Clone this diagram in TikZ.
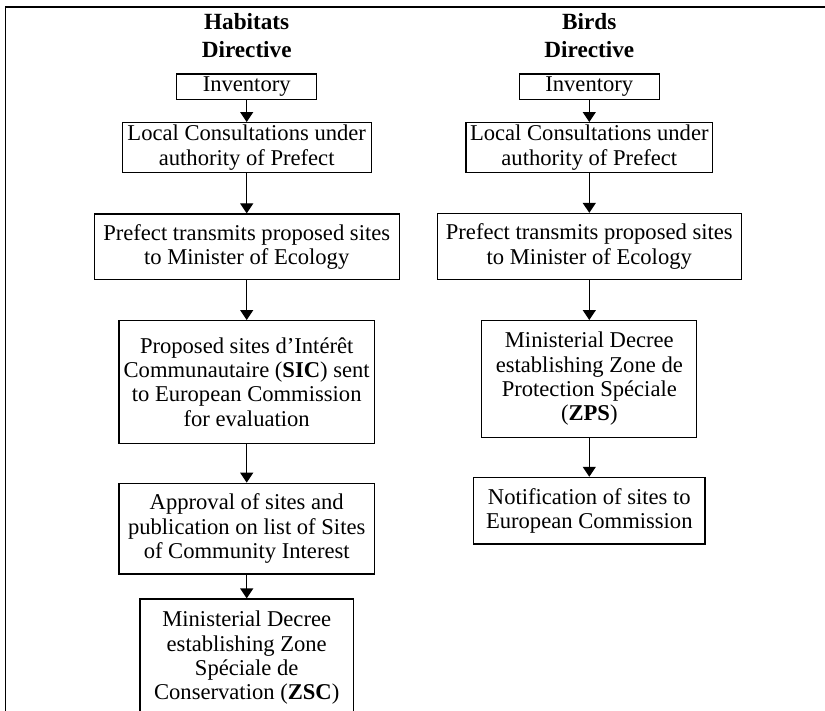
\documentclass[tikz,border=0pt]{standalone}
\usepackage{fontspec}
\setmainfont{Liberation Serif}
\usepackage{tikz}
\usetikzlibrary{arrows.meta,positioning}

\begin{document}
\begin{tikzpicture}[x=0.5pt,y=-0.5pt,
	box/.style={draw,line width=0.65pt,align=center,inner sep=1pt,font=\fontsize{11.3}{12.15}\selectfont},
	head/.style={font=\fontsize{11.6}{14}\selectfont\bfseries,inner sep=0pt,anchor=base},
	arr/.style={-{Triangle[width=6.5pt,length=5pt]},line width=0.65pt}]
		\useasboundingbox (0,0) rectangle (825,711);
		\clip (0,0) rectangle (825,711);
		\draw[line width=0.7pt] (5.5,711) -- (5.5,7) -- (825,7);
		\node[head] (hab) at (246.7,30) {Habitats};
		\node[head] (habdir) at (246.7,58) {Directive};
		\node[head] (bird) at (589.3,30) {Birds};
		\node[head] (birddir) at (589.3,58) {Directive};
		\node[box,minimum width=70pt,minimum height=12.65pt] (inv1) at (246.7,86.7) {Inventory};
		\node[box,minimum width=124.5pt,minimum height=25pt] (loc1) at (246.7,147.7) {Local Consultations under\\authority of Prefect};
		\node[box,minimum width=152.5pt,minimum height=32.7pt] (pre1) at (246.7,246.7) {Prefect transmits proposed sites\\to Minister of Ecology};
		\node[box,minimum width=127.7pt,minimum height=61.3pt] (sic) at (246.7,382) {Proposed sites d’Intérêt\\Communautaire (\textbf{SIC}) sent\\to European Commission\\for evaluation};
		\node[box,minimum width=127.7pt,minimum height=45.4pt] (appr) at (246.7,528.7) {Approval of sites and\\publication on list of Sites\\of Community Interest};
		\node[box,minimum width=106.7pt,minimum height=59pt] (zsc) at (246.7,658) {Ministerial Decree\\establishing Zone\\Spéciale de\\Conservation (\textbf{ZSC})};
		\node[box,minimum width=70pt,minimum height=12.65pt] (inv2) at (589.3,86.7) {Inventory};
		\node[box,minimum width=123.2pt,minimum height=25pt] (loc2) at (589.3,147.7) {Local Consultations under\\authority of Prefect};
		\node[box,minimum width=152pt,minimum height=33pt] (pre2) at (589.3,246.5) {Prefect transmits proposed sites\\to Minister of Ecology};
		\node[box,minimum width=107.5pt,minimum height=58.3pt] (zps) at (589.3,379) {Ministerial Decree\\establishing Zone de\\Protection Spéciale\\(\textbf{ZPS})};
		\node[box,minimum width=115.8pt,minimum height=33.3pt] (notif) at (589.3,510.7) {Notification of sites to\\European Commission};
		\draw[arr] (inv1) -- (loc1);
		\draw[arr] (loc1) -- (pre1);
		\draw[arr] (pre1) -- (sic);
		\draw[arr] (sic) -- (appr);
		\draw[arr] (appr) -- (zsc);
		\draw[arr] (inv2) -- (loc2);
		\draw[arr] (loc2) -- (pre2);
		\draw[arr] (pre2) -- (zps);
		\draw[arr] (zps) -- (notif);
	\end{tikzpicture}
\end{document}
